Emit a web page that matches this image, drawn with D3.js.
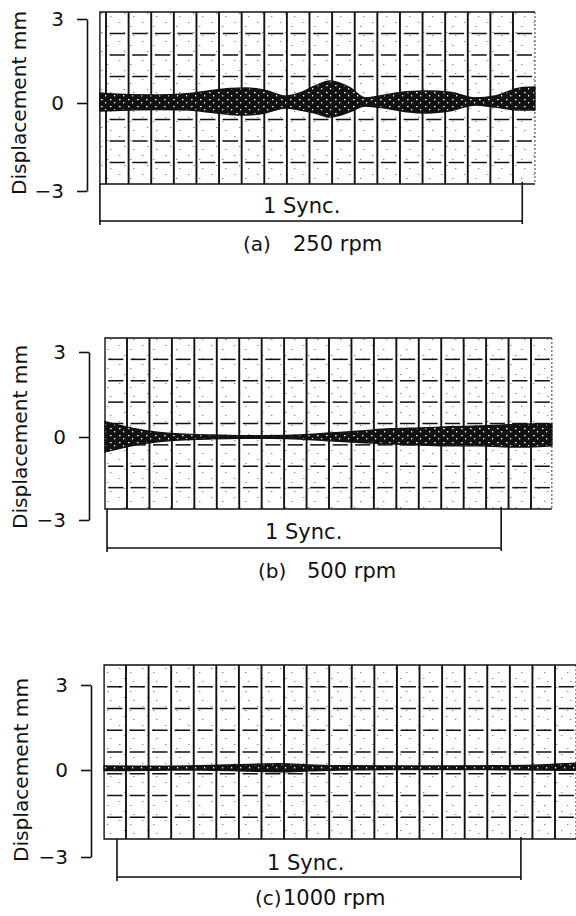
<!DOCTYPE html>
<html><head><meta charset="utf-8">
<script src="https://cdn.jsdelivr.net/npm/d3@7"></script>
<style>
body{margin:0;background:#fff}
svg{display:block}
text{font-family:"DejaVu Sans",sans-serif;fill:#111}
</style>
</head><body>
<svg id="chart" width="576" height="916"></svg>
<script>
// ---------- data ----------
const yTicks = [-3, 0, 3];
const yLabel = "Displacement mm";
const syncLabel = "1 Sync.";
const captionTags = ["(a)", "(b)", "(c)"];
const captionSpeeds = ["250 rpm", "500 rpm", "1000 rpm"];

// x positions in chart-paper divisions, envelope in mm
const aPos   = [-0.27, 1.06, 2.39, 3.72, 4.51, 5.48, 6.19, 7.03, 7.92, 8.58, 9.24, 9.91, 10.79, 11.46, 12.34, 13.31, 14.2, 15.21, 16.32, 17.2, 18.31, 18.97];
const aUpper = [0.36, 0.30, 0.29, 0.34, 0.43, 0.52, 0.54, 0.46, 0.25, 0.36, 0.61, 0.79, 0.55, 0.18, 0.29, 0.40, 0.43, 0.39, 0.18, 0.25, 0.54, 0.57];
const aLower = [-0.27, -0.24, -0.22, -0.24, -0.31, -0.39, -0.41, -0.34, -0.17, -0.24, -0.34, -0.48, -0.30, -0.10, -0.17, -0.30, -0.34, -0.27, -0.07, -0.14, -0.24, -0.24];

const bPos   = [-0.98, -0.4, 0.35, 1.25, 2.35, 3.7, 5.0, 6.4, 7.7, 9.05, 10.4, 11.7, 13.05, 14.4, 15.7, 17.0, 17.96, 18.93];
const bUpper = [0.54, 0.43, 0.29, 0.18, 0.11, 0.07, 0.05, 0.05, 0.07, 0.14, 0.21, 0.29, 0.32, 0.36, 0.39, 0.43, 0.46, 0.46];
const bLower = [-0.54, -0.43, -0.29, -0.18, -0.11, -0.07, -0.05, -0.05, -0.07, -0.14, -0.20, -0.25, -0.29, -0.32, -0.32, -0.36, -0.36, -0.32];

const cPos   = [-0.97, 1.06, 3.28, 5.49, 6.82, 8.15, 9.48, 12.13, 14.35, 16.56, 18.33, 19.93];
const cUpper = [0.14, 0.13, 0.15, 0.20, 0.22, 0.18, 0.15, 0.14, 0.14, 0.15, 0.18, 0.24];
const cLower = [-0.02, -0.01, 0.0, -0.04, -0.06, -0.03, 0.0, 0.02, 0.02, 0.01, 0.0, -0.01];

const series = [
  {pos: aPos, upper: aUpper, lower: aLower},
  {pos: bPos, upper: bUpper, lower: bLower},
  {pos: cPos, upper: cUpper, lower: cLower}
];

// ---------- layout ----------
const layout = [
  {axisX: 87, yRange: [191, 103, 19], grid: [106, 513], gridN: 18, paperDiv: [-0.27, 18.97], paperY: [12, 184],
   syncDiv: [-0.27, 18.41], syncY: 221, syncText: [263, 213], yLabelX: 26, tag: 243, cap: 293, capY: 251},
  {axisX: 89, yRange: [520, 437, 352], grid: [127, 531], gridN: 18, paperDiv: [-0.98, 18.93], paperY: [338, 509],
   syncDiv: [-0.89, 16.67], syncY: 548, syncText: [265, 539], yLabelX: 27, tag: 258, cap: 307, capY: 578},
  {axisX: 91, yRange: [857, 770, 685], grid: [126, 555], gridN: 19, paperDiv: [-0.97, 19.93], paperY: [665, 839],
   syncDiv: [-0.40, 17.49], syncY: 877, syncText: [267, 870], yLabelX: 28, tag: 255, cap: 283, capY: 905}
];

const svg = d3.select("#chart");
const defs = svg.append("defs");
const pat = defs.append("pattern").attr("id", "speck").attr("patternUnits", "userSpaceOnUse")
  .attr("width", 9).attr("height", 7);
pat.append("rect").attr("width", 9).attr("height", 7).attr("fill", "#111");
pat.append("rect").attr("x", 2).attr("y", 1).attr("width", 1.6).attr("height", 1.2).attr("fill", "#fff");
pat.append("rect").attr("x", 6).attr("y", 4).attr("width", 1.2).attr("height", 1.4).attr("fill", "#fff");

const stip = defs.append("pattern").attr("id", "stipple").attr("patternUnits", "userSpaceOnUse")
  .attr("width", 23).attr("height", 19);
stip.append("rect").attr("width", 23).attr("height", 19).attr("fill", "#fff");
[[4, 3], [15, 7], [9, 13], [18, 16]].forEach(([px, py]) =>
  stip.append("rect").attr("x", px).attr("y", py).attr("width", 1.4).attr("height", 1).attr("fill", "#888"));

layout.forEach((L, i) => {
  const g = svg.append("g");
  const x = d3.scaleLinear().domain([0, L.gridN]).range(L.grid);
  const y = d3.scaleLinear().domain([-3, 0, 3]).range(L.yRange);
  const [p0, p1] = L.paperDiv.map(x);
  const [pt, pb] = L.paperY;

  // paper
  g.append("rect").attr("x", p0).attr("y", pt).attr("width", p1 - p0).attr("height", pb - pt).attr("fill", "url(#stipple)");
  const rowY = d3.scaleLinear().domain([0, 8]).range([pt, pb]);

  // horizontal dashes per cell
  const cells = d3.range(Math.floor(L.paperDiv[0]), Math.ceil(L.paperDiv[1]));
  d3.range(1, 8).forEach(r => {
    g.selectAll(null).data(cells).join("line")
      .attr("x1", k => x(Math.max(k + 0.16, L.paperDiv[0] + 0.1)))
      .attr("x2", k => x(Math.min(k + 0.84, L.paperDiv[1])))
      .attr("y1", rowY(r)).attr("y2", rowY(r))
      .attr("stroke", "#111").attr("stroke-width", 1.5);
  });
  // vertical lines
  g.selectAll(null).data(d3.range(0, L.gridN + 1)).join("line")
    .attr("x1", d => x(d)).attr("x2", d => x(d))
    .attr("y1", pt).attr("y2", pb)
    .attr("stroke", "#111").attr("stroke-width", 1.9);
  // paper border
  g.append("path").attr("d", `M${p1},${pt}H${p0}V${pb}H${p1}`)
    .attr("fill", "none").attr("stroke", "#111").attr("stroke-width", 1.4);
  g.append("line").attr("x1", p1).attr("x2", p1).attr("y1", pt).attr("y2", pb)
    .attr("stroke", "#333").attr("stroke-width", 1).attr("stroke-dasharray", "2,2");

  // envelope band
  const S = series[i];
  const area = d3.area()
    .x((d, j) => x(S.pos[j]))
    .y0((d, j) => y(S.lower[j]))
    .y1((d, j) => y(S.upper[j]))
    .curve(d3.curveMonotoneX);
  g.append("path").datum(S.pos).attr("d", area)
    .attr("fill", "url(#speck)").attr("stroke", "#111").attr("stroke-width", 1.4);

  // y axis bracket
  const axis = d3.axisLeft(y).tickValues(yTicks).tickFormat(d3.format("d"))
    .tickSize(10).tickSizeOuter(0).tickPadding(13);
  const ag = g.append("g").attr("transform", `translate(${L.axisX},0)`).call(axis);
  ag.select(".domain").attr("stroke", "#111").attr("stroke-width", 1.6);
  ag.selectAll(".tick line").attr("stroke", "#111").attr("stroke-width", 1.6);
  ag.selectAll(".tick text").attr("font-size", 20).attr("font-family", "DejaVu Sans").attr("fill", "#111");

  // y label
  g.append("text").attr("transform", `translate(${L.yLabelX},${y(0)}) rotate(-90)`)
    .attr("text-anchor", "middle").attr("font-size", 20)
    .attr("textLength", 184).attr("lengthAdjust", "spacingAndGlyphs")
    .text(yLabel);

  // sync bracket
  const sx0 = x(L.syncDiv[0]), sx1 = x(L.syncDiv[1]);
  g.append("path").attr("d", `M${sx0},${pb}V${L.syncY + 4}M${sx0},${L.syncY}H${sx1}M${sx1},${pb - 2}V${L.syncY + 3}`)
    .attr("fill", "none").attr("stroke", "#111").attr("stroke-width", 1.6);
  g.append("text").attr("x", L.syncText[0]).attr("y", L.syncText[1]).attr("font-size", 21)
    .text(syncLabel);

  // caption
  g.append("text").attr("x", L.tag).attr("y", L.capY).attr("font-size", 20).text(captionTags[i]);
  g.append("text").attr("x", L.cap).attr("y", L.capY).attr("font-size", 21).text(captionSpeeds[i]);
});
</script>
</body></html>
